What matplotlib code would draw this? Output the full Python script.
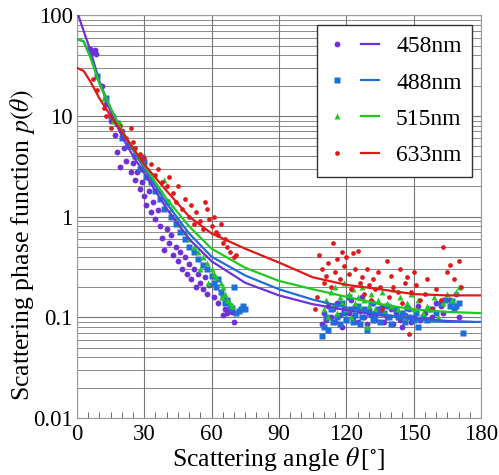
import numpy as np
import matplotlib
matplotlib.use("Agg")
import matplotlib.pyplot as plt
from matplotlib.legend_handler import HandlerTuple
from matplotlib.ticker import MultipleLocator, LogLocator, NullFormatter, FixedFormatter, FixedLocator

plt.rcParams['font.family'] = 'Liberation Serif'
plt.rcParams['mathtext.fontset'] = 'stix'

labels = ['458nm', '488nm', '515nm', '633nm']
colors = ['#7030d8', '#1f6fd8', '#22c822', '#e01818']
markers = ['o', 's', '^', 'o']

# fitted curves
fit_458_x = [0, 3, 6, 10, 15, 20, 25, 30, 40, 50, 60, 75, 90, 105, 120, 135, 150, 165, 176]
fit_458_y = [110, 70, 45, 22, 11, 6.3, 4.0, 2.7, 1.2, 0.6, 0.36, 0.22, 0.165, 0.135, 0.118, 0.105, 0.097, 0.092, 0.09]
fit_488_x = [0, 3, 6, 10, 15, 20, 30, 40, 50, 60, 75, 90, 105, 120, 135, 150, 165, 180]
fit_488_y = [58, 55, 40, 22, 12, 7, 3.0, 1.35, 0.68, 0.40, 0.26, 0.19, 0.15, 0.125, 0.108, 0.095, 0.09, 0.09]
fit_515_x = [0, 3, 6, 10, 15, 20, 30, 40, 50, 60, 75, 90, 105, 120, 135, 150, 165, 180]
fit_515_y = [58, 55, 38, 21, 12, 7.2, 3.2, 1.5, 0.8, 0.48, 0.31, 0.23, 0.19, 0.16, 0.135, 0.12, 0.113, 0.11]
fit_633_x = [0, 3, 6, 10, 15, 20, 30, 40, 50, 60, 75, 90, 105, 120, 135, 150, 165, 180]
fit_633_y = [30, 28, 22, 15, 10, 7.0, 3.3, 1.8, 1.0, 0.68, 0.48, 0.35, 0.25, 0.21, 0.19, 0.17, 0.165, 0.165]

# measured points
pts_458_x = [6, 7, 8, 8.5, 11, 13, 15, 16, 17, 18, 19, 20, 21, 22, 23, 24, 25, 26, 27, 28, 29, 30,
             31, 32, 33, 34, 35, 36, 37, 38, 39, 40, 41, 42, 43, 44, 45, 46, 47, 48, 49, 50, 51, 52,
             53, 54, 55, 56, 57, 58, 59, 61, 63, 65, 66, 67, 68, 69, 70,
             109, 110, 111, 112, 113, 114, 115, 116, 117, 118, 119, 120, 121, 122, 123, 124, 125,
             126, 127, 128, 129, 130, 131, 132, 133, 135, 136, 137, 138, 140, 141, 142, 144, 145,
             146, 148, 149, 150, 152, 153, 155, 157, 158, 160, 162, 163, 166, 169, 170]
pts_458_y = [46, 43, 45, 41, 20, 13, 9, 10, 6.5, 4.4, 3.1, 7, 4.8, 3.6, 5.2, 2.8, 3.4, 2.3, 2.8, 1.9,
             2.2, 1.6, 1.3, 1.8, 1.1, 1.4, 0.95, 1.15, 0.8, 0.62, 0.47, 0.75, 0.55, 0.65, 0.42, 0.5,
             0.36, 0.45, 0.3, 0.4, 0.27, 0.34, 0.24, 0.3, 0.2, 0.27, 0.22, 0.19, 0.25, 0.17, 0.21,
             0.16, 0.14, 0.105, 0.12, 0.11, 0.118, 0.112, 0.09,
             0.085, 0.11, 0.095, 0.13, 0.1, 0.12, 0.09, 0.14, 0.105, 0.08, 0.12, 0.095, 0.11, 0.15,
             0.1, 0.13, 0.09, 0.115, 0.16, 0.1, 0.085, 0.12, 0.105, 0.14, 0.095, 0.11, 0.13, 0.09,
             0.1, 0.12, 0.085, 0.11, 0.095, 0.08, 0.105, 0.12, 0.09, 0.1, 0.13, 0.095, 0.11, 0.12,
             0.1, 0.14, 0.13, 0.11, 0.15, 0.17, 0.1]

pts_488_x = [9, 13, 15, 18, 20, 23, 26, 28, 29, 30, 31, 33, 35, 37, 39, 40, 42, 44, 46, 48, 50, 52,
             54, 56, 58, 60, 61, 62, 63, 64, 65, 66, 67, 68, 69, 70, 71, 72, 73, 74, 75,
             109, 110, 111, 112, 113, 114, 115, 116, 117, 118, 119, 120, 121, 122, 123, 124, 125,
             126, 127, 128, 129, 130, 131, 132, 133, 134, 135, 137, 138, 139, 140, 142, 143, 145,
             146, 147, 148, 150, 151, 152, 154, 156, 158, 160, 162, 164, 166, 167, 168, 169, 170, 172]
pts_488_y = [25, 15, 10, 8.5, 6, 5, 4, 3, 3.9, 3.5, 2.5, 2.2, 1.8, 1.5, 1.2, 1.4, 1.0, 0.85, 0.7,
             0.6, 0.5, 0.45, 0.38, 0.33, 0.3, 0.26, 0.22, 0.2, 0.24, 0.18, 0.16, 0.14, 0.15, 0.13,
             0.125, 0.2, 0.11, 0.115, 0.12, 0.13, 0.12,
             0.065, 0.08, 0.1, 0.075, 0.12, 0.09, 0.13, 0.1, 0.085, 0.14, 0.11, 0.095, 0.16, 0.12,
             0.09, 0.105, 0.13, 0.085, 0.1, 0.12, 0.075, 0.11, 0.14, 0.095, 0.105, 0.12, 0.09,
             0.11, 0.13, 0.1, 0.085, 0.12, 0.1, 0.11, 0.09, 0.125, 0.1, 0.095, 0.11, 0.08, 0.1,
             0.095, 0.12, 0.11, 0.14, 0.15, 0.13, 0.145, 0.12, 0.13, 0.14, 0.07]

pts_515_x = [9, 12, 16, 19, 21, 24, 27, 30, 33, 37, 39, 40, 42, 44, 46, 48, 50, 52, 54, 55, 56, 58,
             58.5, 60, 61, 62, 64, 64.5, 65, 66, 67, 68, 69,
             110, 111, 112, 113, 114, 115, 116, 117, 118, 119, 120, 121, 122, 123, 124, 125, 126,
             127, 128, 129, 130, 131, 133, 134, 136, 137, 138, 140, 141, 143, 144, 146, 147, 149,
             150, 152, 154, 156, 157, 159, 161, 163, 165, 167, 169, 170]
pts_515_y = [25, 15, 9, 8.5, 6.5, 5, 4, 3, 2.4, 1.8, 2.3, 1.4, 1.2, 1.0, 0.85, 0.7, 0.6, 0.5, 0.45,
             0.3, 0.4, 0.35, 0.22, 0.3, 0.27, 0.25, 0.22, 0.16, 0.2, 0.17, 0.15, 0.14, 0.13,
             0.12, 0.15, 0.1, 0.18, 0.13, 0.2, 0.11, 0.16, 0.14, 0.22, 0.12, 0.17, 0.1, 0.19, 0.14,
             0.16, 0.12, 0.2, 0.15, 0.08, 0.13, 0.17, 0.12, 0.15, 0.18, 0.11, 0.14, 0.13, 0.19,
             0.12, 0.16, 0.1, 0.14, 0.17, 0.12, 0.15, 0.11, 0.13, 0.12, 0.16, 0.1, 0.14, 0.17,
             0.15, 0.18, 0.2]

pts_633_x = [7, 9, 12, 13, 15, 17, 19, 22, 24, 25, 26, 28, 30, 31, 33, 35, 36, 38, 40, 41, 43, 44,
             45, 47, 48, 50, 51, 52, 53, 55, 56, 57, 58, 59, 60, 61, 62, 63, 64, 65, 66, 67, 68, 70, 71,
             106, 107, 108, 109, 110, 111, 112, 113, 114, 115, 116, 117, 118, 119, 120, 121, 122,
             123, 124, 125, 126, 127, 128, 129, 130, 131, 132, 133, 134, 135, 136, 138, 139, 140,
             141, 143, 144, 145, 146, 147, 148, 149, 150, 151, 153, 155, 156, 158, 160, 162, 163,
             165, 166, 168, 170, 171]
pts_633_y = [23, 18, 12, 10, 7.5, 9, 8, 6, 7.5, 5.5, 4.8, 4.2, 3.8, 3, 3.3, 2.6, 3.0, 2.2, 2.0, 2.5,
             1.7, 1.4, 2.0, 1.2, 1.5, 1.0, 1.3, 0.85, 1.1, 0.9, 0.75, 1.4, 1.2, 0.95, 0.8, 1.0, 0.7,
             0.65, 0.85, 0.55, 0.6, 0.5, 0.45, 0.4, 0.42,
             0.12, 0.16, 0.42, 0.3, 0.22, 0.26, 0.35, 0.2, 0.55, 0.28, 0.38, 0.24, 0.45, 0.32, 0.4,
             0.27, 0.19, 0.44, 0.3, 0.46, 0.22, 0.25, 0.17, 0.3, 0.21, 0.15, 0.24, 0.19, 0.28, 0.2,
             0.12, 0.36, 0.16, 0.26, 0.2, 0.18, 0.3, 0.14, 0.22, 0.25, 0.068, 0.18, 0.28, 0.21,
             0.15, 0.17, 0.24, 0.12, 0.19, 0.15, 0.5, 0.28, 0.33, 0.24, 0.36, 0.2]

fits = [(fit_458_x, fit_458_y), (fit_488_x, fit_488_y), (fit_515_x, fit_515_y), (fit_633_x, fit_633_y)]
pts = [(pts_458_x, pts_458_y), (pts_488_x, pts_488_y), (pts_515_x, pts_515_y), (pts_633_x, pts_633_y)]
msizes = [4.2, 4.0, 4.2, 3.4]

fig = plt.figure(figsize=(4.99, 4.75), dpi=100)
ax = fig.add_axes([0.154, 0.12, 0.81, 0.848])

handles = []
for i in range(4):
    p, = ax.plot(pts[i][0], pts[i][1], linestyle='none', marker=markers[i], ms=msizes[i],
                 color=colors[i], mec='none', zorder=3)
    l, = ax.plot(fits[i][0], fits[i][1], color=colors[i], lw=1.6, zorder=4)
    handles.append((p, l))

ax.set_yscale('log')
ax.set_xlim(0, 180)
ax.set_ylim(0.01, 100)
ax.xaxis.set_major_locator(MultipleLocator(30))
ax.xaxis.set_minor_locator(MultipleLocator(5))
ax.yaxis.set_major_locator(FixedLocator([0.01, 0.1, 1, 10, 100]))
ax.yaxis.set_major_formatter(FixedFormatter(['0.01', '0.1', '1', '10', '100']))
ax.yaxis.set_minor_locator(LogLocator(base=10, subs=np.arange(2, 10)))
ax.yaxis.set_minor_formatter(NullFormatter())

ax.grid(True, which='major', axis='both', color='#777777', lw=0.8)
ax.grid(True, which='minor', axis='y', color='#777777', lw=0.6)
ax.tick_params(which='both', direction='in', labelsize=16.5, color='#555555')
ax.tick_params(axis='y', which='both', length=0, pad=3)
ax.tick_params(axis='x', which='major', length=0, pad=4)
ax.tick_params(axis='x', which='minor', length=4)
for s in ax.spines.values():
    s.set_color('#999999')

ax.set_xlabel(r'Scattering angle $\theta\,$[$^{\circ}$]', fontsize=18.5, labelpad=0)
ax.set_ylabel(r'Scattering phase function $p(\theta)$', fontsize=18.5)
ax.yaxis.set_label_coords(-0.099, 0.43)

leg = ax.legend(handles, labels, loc='upper right', bbox_to_anchor=(0.978, 0.975),
                borderaxespad=0,
                handler_map={tuple: HandlerTuple(ndivide=None, pad=0.6)},
                handlelength=2.2, fontsize=17, labelspacing=0.62, borderpad=0.45,
                handletextpad=0.7, fancybox=False, framealpha=1, edgecolor='#333333')
leg.get_frame().set_linewidth(1.0)

fig.savefig('out.png', dpi=100)
